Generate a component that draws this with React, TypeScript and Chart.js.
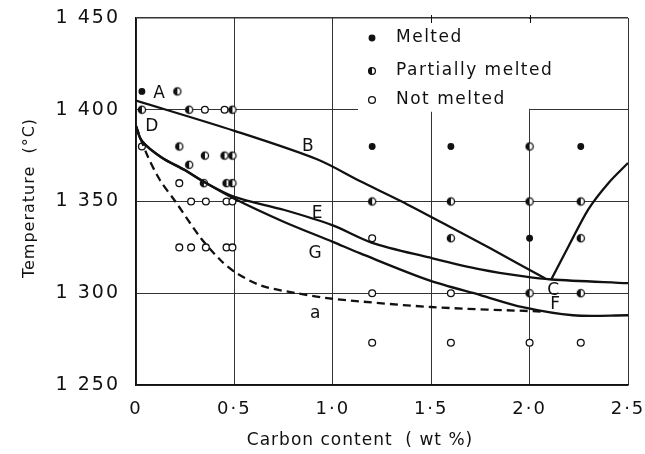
import React, { useEffect, useRef } from 'react';
import { Chart, registerables } from 'chart.js';
Chart.register(...registerables);

const FONT = "'DejaVu Sans', sans-serif";
const INK = '#111';

// axis ticks
const xTicks = [0, 0.5, 1, 1.5, 2, 2.5];
const xTickLabels = ['0', '0·5', '1·0', '1·5', '2·0', '2·5'];
const yTicks = [1250, 1300, 1350, 1400, 1450];
const yTickLabels = ['1 250', '1 300', '1 350', '1 400', '1 450'];
const xTitle = 'Carbon content  ( wt %)';
const yTitle = 'Temperature  (°C)';

// observations
const meltedX = [0.03, 1.2, 1.6, 2.26, 2.0];
const meltedT = [1410, 1380, 1380, 1380, 1330];
const partialX = [0.21, 0.03, 0.27, 0.49, 0.22, 0.35, 0.45, 0.49, 0.27, 0.345, 0.46, 0.49, 2.0, 1.2, 1.6, 2.0, 2.26, 1.6, 2.26, 2.0, 2.26];
const partialT = [1410, 1400, 1400, 1400, 1380, 1375, 1375, 1375, 1370, 1360, 1360, 1360, 1380, 1350, 1350, 1350, 1350, 1330, 1330, 1300, 1300];
const notMeltedX = [0.35, 0.45, 0.03, 0.22, 0.28, 0.355, 0.46, 0.49, 0.22, 0.28, 0.355, 0.46, 0.49, 1.2, 1.2, 1.6, 1.2, 1.6, 2.0, 2.26];
const notMeltedT = [1400, 1400, 1380, 1360, 1350, 1350, 1350, 1350, 1325, 1325, 1325, 1325, 1325, 1330, 1300, 1300, 1273, 1273, 1273, 1273];

// curves
const curveABX = [0, 0.5, 0.92, 1.14, 1.35, 1.58, 1.8, 2.08];
const curveABT = [1405, 1388.5, 1373, 1361, 1350, 1337, 1324.5, 1308];
const curveCX = [2.11, 2.2, 2.3, 2.4, 2.5];
const curveCT = [1307.5, 1326, 1346, 1360, 1371];
const curveDEX = [0, 0.03, 0.13, 0.25, 0.34, 0.5, 0.75, 1.0, 1.2, 1.49, 1.75, 1.98, 2.11, 2.5];
const curveDET = [1391, 1383, 1374, 1367, 1361, 1352.5, 1345.5, 1337, 1327.5, 1319.5, 1313, 1309, 1307.5, 1305.5];
const curveDGX = [0, 0.03, 0.13, 0.25, 0.34, 0.5, 0.75, 1.0, 1.14, 1.49, 1.75, 1.965, 2.22, 2.5];
const curveDGT = [1391, 1383, 1374, 1367, 1361, 1351.5, 1339, 1328, 1321.7, 1307, 1299, 1292.4, 1288, 1288];
const curveDaX = [0, 0.056, 0.12, 0.2, 0.33, 0.43, 0.51, 0.64, 0.82, 1.0, 1.5, 2.07];
const curveDaT = [1391, 1375.5, 1362, 1350, 1330, 1318, 1311, 1304, 1300, 1297, 1292.5, 1290];

// curve letters
const letterTexts = ['A', 'B', 'C', 'D', 'E', 'F', 'G', 'a'];
const letterX = [0.117, 0.873, 2.12, 0.08, 0.92, 2.13, 0.91, 0.91];
const letterT = [1408.6, 1380, 1301.5, 1390.6, 1343.5, 1294, 1321.7, 1289];

const legendTexts = ['Melted', 'Partially melted', 'Not melted'];

function makeHalf(r: number) {
  const c = document.createElement('canvas');
  const s = Math.ceil(r * 2 + 4);
  c.width = s;
  c.height = s;
  const g = c.getContext('2d')!;
  const cx = s / 2;
  g.beginPath();
  g.arc(cx, cx, r, 0, Math.PI * 2);
  g.fillStyle = '#fff';
  g.fill();
  g.beginPath();
  g.arc(cx, cx, r, Math.PI / 2, Math.PI * 1.5);
  g.closePath();
  g.fillStyle = INK;
  g.fill();
  g.beginPath();
  g.arc(cx, cx, r, 0, Math.PI * 2);
  g.lineWidth = 1.3;
  g.strokeStyle = INK;
  g.stroke();
  return c;
}

function drawMarker(ctx: CanvasRenderingContext2D, kind: number, x: number, y: number, r: number) {
  ctx.save();
  ctx.lineWidth = 1.3;
  ctx.strokeStyle = INK;
  ctx.beginPath();
  ctx.arc(x, y, r, 0, Math.PI * 2);
  ctx.fillStyle = kind === 0 ? INK : '#fff';
  ctx.fill();
  ctx.stroke();
  if (kind === 1) {
    ctx.beginPath();
    ctx.arc(x, y, r, Math.PI / 2, Math.PI * 1.5);
    ctx.closePath();
    ctx.fillStyle = INK;
    ctx.fill();
  }
  ctx.restore();
}

const pts = (xs: number[], ys: number[]) => xs.map((x, i) => ({ x, y: ys[i] }));

export default function App() {
  const ref = useRef<HTMLCanvasElement>(null);
  useEffect(() => {
    const canvas = ref.current!;
    const half = makeHalf(3.6);
    const lineDs = (label: string, xs: number[], ys: number[], dash: number[] = []) => ({
      label,
      data: pts(xs, ys),
      showLine: true,
      borderColor: INK,
      borderWidth: 2.3,
      borderDash: dash,
      pointRadius: 0,
      pointHoverRadius: 0,
      fill: false,
      tension: 0.3,
    });

    const deco = {
      id: 'deco',
      beforeDraw(chart: any) {
        (chart.ctx as any).letterSpacing = '2px';
      },
      beforeDatasetsDraw(chart: any) {
        const { ctx, chartArea, scales } = chart;
        const y1400 = scales.y.getPixelForValue(1400);
        const x20 = scales.x.getPixelForValue(2.0);
        ctx.save();
        ctx.fillStyle = '#fff';
        ctx.fillRect(358, chartArea.top + 1, chartArea.right - 1.5 - 358, y1400 - 1 - chartArea.top - 1);
        ctx.fillRect(358, y1400 - 2, x20 - 0.5 - 358, 4);
        ctx.strokeStyle = INK;
        ctx.lineWidth = 1;
        [1.5, 2.0].forEach((v) => {
          const px = Math.round(scales.x.getPixelForValue(v)) + 0.5;
          ctx.beginPath();
          ctx.moveTo(px, chartArea.top - 3);
          ctx.lineTo(px, chartArea.top + 5);
          ctx.stroke();
        });
        ctx.restore();
      },
      afterDraw(chart: any) {
        const { ctx, scales } = chart;
        ctx.save();
        (ctx as any).letterSpacing = '1.5px';
        ctx.fillStyle = INK;
        ctx.textBaseline = 'middle';
        ctx.textAlign = 'left';
        ctx.font = `17px ${FONT}`;
        const rows = [38, 71, 100];
        legendTexts.forEach((t, i) => {
          drawMarker(ctx, i, 372, rows[i], i === 0 ? 2.8 : 3.4);
          ctx.fillStyle = INK;
          ctx.fillText(t, 396, rows[i]);
        });
        ctx.textAlign = 'center';
        (ctx as any).letterSpacing = '0px';
        ctx.font = `17px ${FONT}`;
        letterTexts.forEach((t, i) => {
          ctx.fillText(t, scales.x.getPixelForValue(letterX[i]), scales.y.getPixelForValue(letterT[i]));
        });
        (ctx as any).letterSpacing = '1px';
        ctx.font = `17px ${FONT}`;
        ctx.fillText(xTitle, 360, 441);
        ctx.save();
        ctx.translate(30, 198);
        ctx.rotate(-Math.PI / 2);
        ctx.font = `16px ${FONT}`;
        ctx.fillText(yTitle, 0, 0);
        ctx.restore();
        ctx.restore();
      },
    };

    const chart = new Chart(canvas, {
      type: 'scatter',
      data: {
        datasets: [
          lineDs('A-B-C', curveABX, curveABT),
          lineDs('C rise', curveCX, curveCT),
          lineDs('D-E-C', curveDEX, curveDET),
          lineDs('D-G-F', curveDGX, curveDGT),
          lineDs('D-a', curveDaX, curveDaT, [8, 5]),
          {
            label: 'Melted',
            data: pts(meltedX, meltedT),
            pointStyle: 'circle',
            pointRadius: 2.8,
            backgroundColor: INK,
            borderColor: INK,
            borderWidth: 1.3,
          },
          {
            label: 'Partially melted',
            data: pts(partialX, partialT),
            pointStyle: half,
            pointRadius: 3.6,
          },
          {
            label: 'Not melted',
            data: pts(notMeltedX, notMeltedT),
            pointStyle: 'circle',
            pointRadius: 3.4,
            backgroundColor: '#fff',
            borderColor: INK,
            borderWidth: 1.3,
          },
        ] as any,
      },
      plugins: [deco],
      options: {
        responsive: false,
        animation: false,
        events: [],
        layout: { padding: { left: 0, top: 18, right: 17, bottom: 0 } },
        plugins: { legend: { display: false }, tooltip: { enabled: false } },
        scales: {
          x: {
            type: 'linear',
            min: 0,
            max: 2.5,
            afterBuildTicks: (s: any) => {
              s.ticks = xTicks.map((v) => ({ value: v }));
            },
            afterFit: (s: any) => {
              s.height = 69;
              s.paddingLeft = 0;
              s.paddingRight = 0;
              s.paddingTop = 0;
              s.paddingBottom = 0;
            },
            ticks: {
              callback: (v: any) => xTickLabels[xTicks.indexOf(v)] ?? '',
              font: { family: FONT, size: 18 },
              color: INK,
              padding: 14,
              maxRotation: 0,
              autoSkip: false,
            },
            grid: { color: '#333', lineWidth: 1, drawTicks: false },
            border: { color: INK, width: 1.5 },
          },
          y: {
            type: 'linear',
            min: 1250,
            max: 1450,
            afterBuildTicks: (s: any) => {
              s.ticks = yTicks.map((v) => ({ value: v }));
            },
            afterFit: (s: any) => {
              s.width = 136;
              s.paddingLeft = 0;
              s.paddingRight = 0;
              s.paddingTop = 0;
              s.paddingBottom = 0;
            },
            ticks: {
              callback: (v: any) => yTickLabels[yTicks.indexOf(v)] ?? '',
              font: { family: FONT, size: 19 },
              color: INK,
              padding: 16,
              autoSkip: false,
            },
            grid: { color: '#333', lineWidth: (c: any) => (c.tick && c.tick.value === 1450 ? 1.5 : 1), drawTicks: false },
            border: { color: INK, width: 1.5 },
          },
        },
      } as any,
    });
    return () => chart.destroy();
  }, []);
  return (
    <div style={{ position: 'fixed', left: 0, top: 0, width: 645, height: 454, background: '#fff' }}>
      <canvas ref={ref} width={645} height={454} style={{ display: 'block' }} />
    </div>
  );
}
